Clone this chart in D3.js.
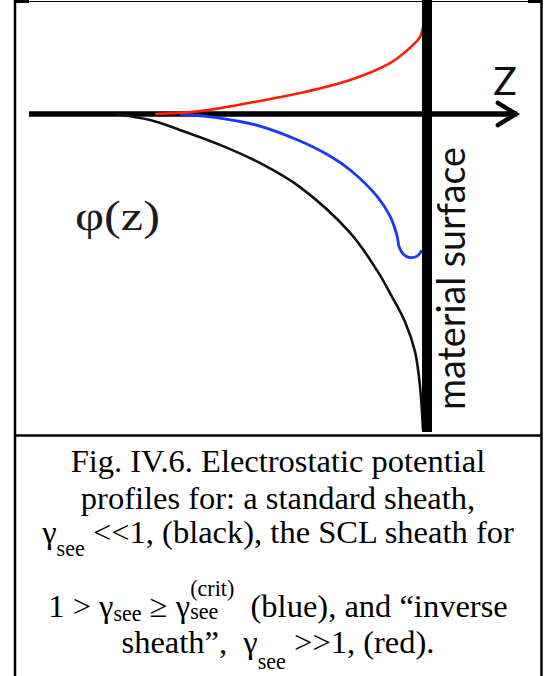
<!DOCTYPE html>
<html>
<head>
<meta charset="utf-8">
<script src="https://cdn.jsdelivr.net/npm/d3@7.9.0/dist/d3.min.js"></script>
<style>
  body { margin: 0; background: #fff; }
  text { white-space: pre; }
</style>
</head>
<body>
<svg id="fig" width="551" height="676"></svg>
<script>
// curves: z runs 0 -> 1 (surface), phi is 0 on the axis
const blackZ = [0.216, 0.304, 0.379, 0.480, 0.580, 0.681, 0.807, 0.874, 0.907, 0.945, 0.970, 0.982, 0.990];
const blackPhi = [0, -0.019, -0.050, -0.097, -0.154, -0.230, -0.374, -0.491, -0.563, -0.654, -0.748, -0.852, -0.994];

const blueZ = [0.379, 0.480, 0.580, 0.681, 0.756, 0.807, 0.874, 0.907, 0.925, 0.930, 0.940, 0.955, 0.975, 0.987];
const bluePhi = [0, -0.013, -0.038, -0.085, -0.132, -0.176, -0.258, -0.321, -0.384, -0.418, -0.440, -0.451, -0.447, -0.428];

const redZ = [0.317, 0.430, 0.580, 0.681, 0.807, 0.907, 0.957, 0.982, 0.990];
const redPhi = [0, 0.009, 0.041, 0.066, 0.107, 0.160, 0.208, 0.242, 0.274];

const axisEnd = 1.231;     // arrow tip, in z units
const surfaceZ = 1;

// caption lines, pieces: k = sub / sup
const caption = [
  [{t: "Fig. IV.6. Electrostatic potential"}],
  [{t: "profiles for: a standard sheath,"}],
  [{t: "γ"}, {t: "see", k: "sub", d: 13}, {t: " <<1, (black), the SCL sheath for"}],
  [{t: "1 > γ"}, {t: "see", k: "sub", d: 4}, {t: " ≥ γ"}, {t: "(crit)", k: "sup", d: -21, stack: true}, {t: "see", k: "sub", d: 2}, {t: "  (blue), and “inverse"}],
  [{t: "sheath”,  γ"}, {t: "see", k: "sub", d: 16}, {t: " >>1, (red)."}]
];
const captionBase = [472, 509, 543, 617, 653];

const svg = d3.select('#fig');

const x = d3.scaleLinear().domain([0, 1]).range([29, 427]);
const y = d3.scaleLinear().domain([0, -1]).range([114, 432]);

// frame
svg.append('line').attr('x1', 15).attr('x2', 15).attr('y1', 0).attr('y2', 676).attr('stroke', '#000').attr('stroke-width', 2.5);
svg.append('line').attr('x1', 541.5).attr('x2', 541.5).attr('y1', 0).attr('y2', 676).attr('stroke', '#000').attr('stroke-width', 2.5);
svg.append('line').attr('x1', 15).attr('x2', 541).attr('y1', 1.5).attr('y2', 1.5).attr('stroke', '#000').attr('stroke-width', 1.2);
svg.append('line').attr('x1', 15).attr('x2', 29).attr('y1', 1.5).attr('y2', 1.5).attr('stroke', '#000').attr('stroke-width', 3);
svg.append('line').attr('x1', 528).attr('x2', 541).attr('y1', 1.5).attr('y2', 1.5).attr('stroke', '#000').attr('stroke-width', 3);
svg.append('line').attr('x1', 15).attr('x2', 541).attr('y1', 435.5).attr('y2', 435.5).attr('stroke', '#000').attr('stroke-width', 2.5);

// z axis with open arrow
svg.append('line')
  .attr('x1', x(0)).attr('x2', x(axisEnd) - 2)
  .attr('y1', y(0)).attr('y2', y(0))
  .attr('stroke', '#000').attr('stroke-width', 5.5);
svg.append('polyline')
  .attr('points', [[x(1.178), y(0.035)], [x(axisEnd) - 3, y(0)], [x(1.178), y(-0.035)]].map(p => p.join(',')).join(' '))
  .attr('fill', 'none').attr('stroke', '#000').attr('stroke-width', 4.5)
  .attr('stroke-linecap', 'round');

const line = d3.line()
  .x(d => x(d[0]))
  .y(d => y(d[1]))
  .curve(d3.curveCatmullRom.alpha(0.5));

const curves = [
  {z: blackZ, phi: blackPhi, color: '#111', w: 2.6},
  {z: blueZ, phi: bluePhi, color: '#1a35ff', w: 2.8},
  {z: redZ, phi: redPhi, color: '#ff1a00', w: 2.6}
];
curves.forEach(c => {
  svg.append('path')
    .attr('d', line(c.z.map((v, i) => [v, c.phi[i]])))
    .attr('fill', 'none')
    .attr('stroke', c.color)
    .attr('stroke-width', c.w);
});

// material surface
svg.append('line')
  .attr('x1', x(surfaceZ)).attr('x2', x(surfaceZ))
  .attr('y1', 0).attr('y2', 432)
  .attr('stroke', '#000').attr('stroke-width', 10);

// labels
svg.append('text')
  .attr('x', 505).attr('y', 95)
  .attr('text-anchor', 'middle')
  .attr('font-family', 'Lato, sans-serif').attr('font-size', 39)
  .attr('fill', '#111')
  .text('Z');

svg.append('text')
  .attr('transform', 'translate(465,410) rotate(-90)')
  .attr('font-family', 'Lato, sans-serif').attr('font-size', 39)
  .attr('textLength', 263).attr('lengthAdjust', 'spacingAndGlyphs')
  .attr('fill', '#111')
  .text('material surface');

svg.append('text')
  .attr('x', 75).attr('y', 230)
  .attr('font-family', '"Liberation Serif", serif').attr('font-size', 42)
  .attr('textLength', 85).attr('lengthAdjust', 'spacingAndGlyphs')
  .attr('fill', '#1a1a1a')
  .text('φ(z)');

// caption
const capSize = 32.5;
caption.forEach((segs, li) => {
  const g = svg.append('g')
    .attr('font-family', '"Liberation Serif", "Times New Roman", serif')
    .attr('fill', '#000');
  let cx = 0, stackX = null, stackW = 0;
  segs.forEach(s => {
    const x0 = stackX !== null ? stackX : cx;
    const t = g.append('text')
      .attr('x', x0)
      .attr('y', captionBase[li] + (s.d || 0))
      .attr('font-size', s.k ? capSize * 0.68 : capSize)
      .text(s.t);
    const w = t.node().getComputedTextLength();
    if (s.stack) { stackX = x0; stackW = w; }
    else if (stackX !== null) { cx = x0 + Math.max(w, stackW); stackX = null; }
    else cx += w;
  });
  g.attr('transform', `translate(${278 - cx / 2},0)`);
});
</script>
</body>
</html>
